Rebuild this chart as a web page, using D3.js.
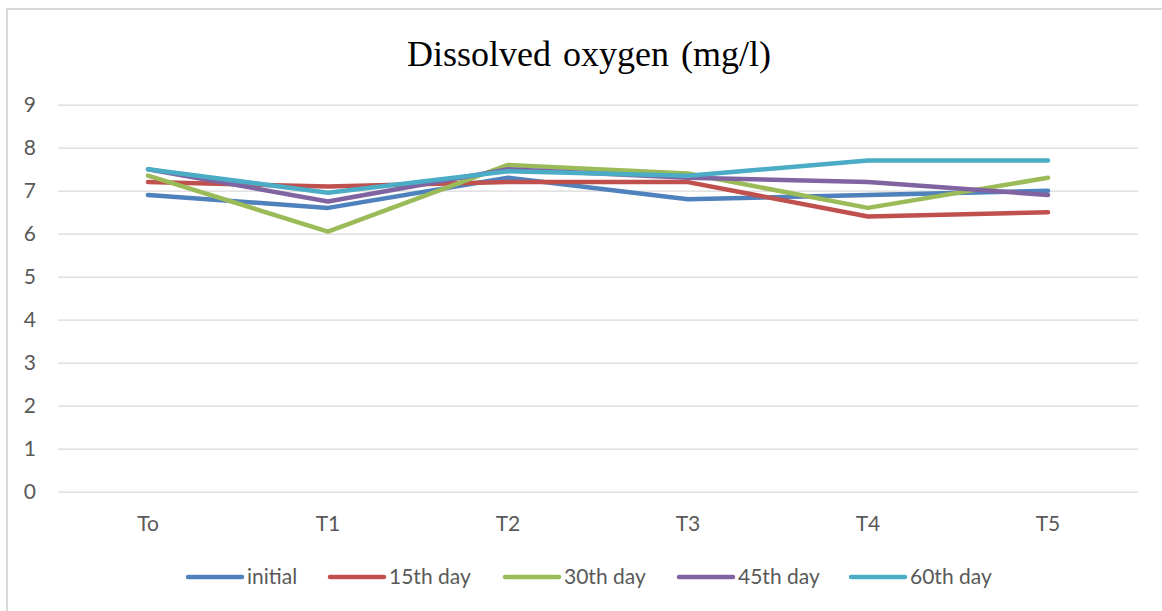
<!DOCTYPE html>
<html>
<head>
<meta charset="utf-8">
<script src="https://cdn.jsdelivr.net/npm/d3@7"></script>
<style>
  html, body { margin: 0; padding: 0; background: #fff; }
  svg { display: block; }
</style>
</head>
<body>
<svg id="chart" width="1162" height="611"></svg>
<script>
// Dissolved oxygen readings (mg/l) per treatment and sampling day
const categories = ["To", "T1", "T2", "T3", "T4", "T5"];
const seriesNames = ["initial", "15th day", "30th day", "45th day", "60th day"];
const initial = [6.9, 6.6, 7.3, 6.8, 6.9, 7.0];
const day15   = [7.2, 7.1, 7.2, 7.2, 6.4, 6.5];
const day30   = [7.35, 6.05, 7.6, 7.4, 6.6, 7.3];
const day45   = [7.5, 6.75, 7.5, 7.3, 7.2, 6.9];
const day60   = [7.5, 6.95, 7.45, 7.35, 7.7, 7.7];
const yTicks  = [0, 1, 2, 3, 4, 5, 6, 7, 8, 9];
const colors  = ["#4F81BD", "#C0504D", "#9BBB59", "#8064A2", "#4BACC6"];

const series = [initial, day15, day30, day45, day60].map((vals, i) => ({
  name: seriesNames[i], values: vals, color: colors[i]
}));

const svg = d3.select("#chart");
const W = 1162, H = 611;
const plot = { left: 58, right: 1138, top: 104.7, bottom: 491.7 };

// Chart frame
svg.append("rect")
  .attr("x", 7).attr("y", 9)
  .attr("width", W + 20).attr("height", H + 20)
  .attr("fill", "#fff")
  .attr("stroke", "#d9d9d9").attr("stroke-width", 2);

// Title
svg.append("text")
  .attr("x", 589).attr("y", 66)
  .attr("text-anchor", "middle")
  .attr("font-family", "'Liberation Serif', 'Times New Roman', serif")
  .attr("font-size", 36)
  .attr("word-spacing", 3)
  .attr("fill", "#000")
  .text("Dissolved oxygen (mg/l)");

const x = d3.scaleBand().domain(categories).range([plot.left, plot.right]);
const y = d3.scaleLinear().domain([0, 9]).range([plot.bottom, plot.top]);

const labelFont = "Lato, 'Open Sans', sans-serif";
const labelSize = 21;

// Horizontal gridlines and y-axis labels
const yAxis = d3.axisLeft(y).tickValues(yTicks)
  .tickSize(-(plot.right - plot.left)).tickPadding(22).tickFormat(d3.format("d"));
const gy = svg.append("g").attr("transform", `translate(${plot.left},0)`).call(yAxis);
gy.select(".domain").remove();
gy.selectAll(".tick line").attr("stroke", "#d9d9d9").attr("stroke-width", 1.3);
gy.selectAll(".tick text")
  .attr("font-family", labelFont).attr("font-size", labelSize).attr("fill", "#595959");

// Category labels
const xAxis = d3.axisBottom(x).tickSize(0).tickPadding(24);
const gx = svg.append("g").attr("transform", `translate(0,${plot.bottom})`).call(xAxis);
gx.select(".domain").remove();
gx.selectAll(".tick text")
  .attr("font-family", labelFont).attr("font-size", labelSize).attr("fill", "#595959");

// Series lines
const line = d3.line()
  .x((d, i) => x(categories[i]) + x.bandwidth() / 2)
  .y(d => y(d));

svg.append("g").selectAll("path")
  .data(series).join("path")
  .attr("d", d => line(d.values))
  .attr("fill", "none")
  .attr("stroke", d => d.color)
  .attr("stroke-width", 4.5)
  .attr("stroke-linejoin", "round")
  .attr("stroke-linecap", "round");

// Legend
const legendX = [188, 330, 505, 679, 851];
const legendY = 577;
const lg = svg.append("g").selectAll("g")
  .data(series).join("g")
  .attr("transform", (d, i) => `translate(${legendX[i]},${legendY})`);
lg.append("line")
  .attr("x1", 0).attr("x2", 54).attr("y1", 0).attr("y2", 0)
  .attr("stroke", d => d.color).attr("stroke-width", 4.5)
  .attr("stroke-linecap", "round");
lg.append("text")
  .attr("x", 59).attr("y", 0).attr("dy", "0.35em")
  .attr("font-family", labelFont).attr("font-size", labelSize).attr("fill", "#595959")
  .text(d => d.name);
</script>
</body>
</html>
